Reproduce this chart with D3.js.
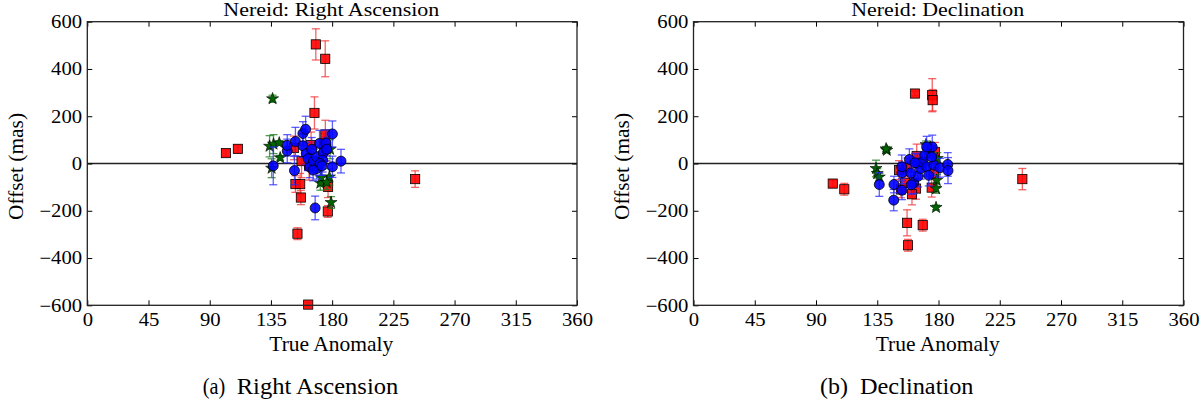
<!DOCTYPE html>
<html><head><meta charset="utf-8">
<script src="https://cdn.jsdelivr.net/npm/d3@7"></script>
<style>
html,body{margin:0;padding:0;background:#fff;}
svg text{font-family:"Liberation Serif","Times New Roman",serif;fill:#000;}
</style></head>
<body><svg id="chart" width="1200" height="400"></svg>
<script>
// ---------- data: [true anomaly (deg), offset (mas), error (mas)] ----------
const xTicks = [0,45,90,135,180,225,270,315,360];
const yTicks = [-600,-400,-200,0,200,400,600];

const raSquares = [
 [101.9,44,14],[110.7,62,16],[168,504,66],[174.9,443,76],[167,214,68],[175,123,60],
 [152,66,50],[164.5,78,55],[175.6,62,50],[174.4,82,45],[153,-87,35],[156.5,-87,45],
 [157,-144,30],[177,-99,45],[176.8,-203,25],[154.5,-297,25],[162.4,-597,10],[241,-66,35],
 [163,-10,60],[157.5,10,70]
];
const raCircles = [
 [136.7,-10,80],[147,53,50],[147,77,45],[152.3,-30,60],[153,93,60],[158.5,127,50],
 [160.5,145,55],[158.5,75,50],[161,42,45],[162.3,20,50],[163.5,-15,45],[166.3,10,50],
 [168.5,28,45],[170.7,85,55],[173.5,45,50],[173,14,50],[175.5,87,55],[180.2,125,55],
 [180.2,-14,45],[186.5,10,50],[167.5,-188,50],[168.7,-21,45],[171.2,0,50],[166,-28,45],
 [172.5,-10,40],[176,60,50],[165,60,50]
];
const raStars = [
 [136.2,274,15],[134,73,45],[136.9,82,40],[141.1,87,10],[141.8,24,10],[135.5,-20,40],
 [171.3,-83,30],[178,-57,35],[179.2,-165,25],[178.5,60,40],[172,-60,35],[176,-80,30]
];

const decSquares = [
 [102.3,-85,14],[110.8,-109,25],[162.7,296,10],[175.4,289,70],[175.7,268,45],
 [156.9,-251,55],[157.6,-346,25],[168.4,-261,25],[241.6,-66,45],[164,32,50],
 [157.1,-17,40],[152.4,-110,35],[155.4,-82,40],[163.5,-106,45],[175,-102,40],
 [177.4,49,40],[176.7,-42,45],[151,-28,40],[160.5,-130,45]
];
const decCircles = [
 [136.5,-89,50],[147.3,-89,35],[147.1,-155,45],[153.2,-113,40],[153.2,-40,45],
 [153,-14,50],[158.6,17,45],[161.8,-82,45],[165,-54,45],[164.7,0,40],[166.9,-21,45],
 [168.4,7,40],[169.9,35,45],[171.3,-14,40],[172.8,-50,45],[175.4,70,50],[176.7,-7,45],
 [181.1,-18,40],[186.8,-4,50],[187,-30,55],[162.7,3,40],[159.6,-40,45],[175,28,45],
 [171.3,70,45],[160,-90,40]
];
const decStars = [
 [142,56,10],[141.5,62,10],[134.1,-21,35],[135,-42,20],[136.5,-57,15],[178.2,-186,10],
 [170.8,80,15],[172.3,56,15],[178.7,-71,25],[178.2,-106,20],[179.1,21,25],[174,70,20]
];

const titles = ["Nereid: Right Ascension","Nereid: Declination"];
const captionTags = ["(a)","(b)"];
const captionTexts = ["Right Ascension","Declination"];
const xLabel = "True Anomaly";
const yLabel = "Offset (mas)";

// ---------- drawing ----------
const svg = d3.select("#chart");
const panels = [
  {x0:87.3, x1:577, capStart:202.7, titleW:216, capW:161.6, data:[raSquares,raStars,raCircles]},
  {x0:693.5, x1:1183.5, capStart:820, titleW:173, capW:113.5, data:[decSquares,decStars,decCircles]}
];
const yTop = 21.7, yBot = 305.3;
const styles = [
  {color:"#ff0000", bar:"#f03030", shape:"square"},
  {color:"#006400", bar:"#1a7a1a", shape:"star"},
  {color:"#0000ff", bar:"#2828ff", shape:"circle"}
];

function fitText(g, x, y, str, size, width, anchor){
  return g.append("text").attr("x",x).attr("y",y)
    .attr("font-family","Liberation Serif, Times New Roman, serif")
    .attr("text-anchor",anchor).attr("font-size",size)
    .attr("textLength",width).attr("lengthAdjust","spacingAndGlyphs").text(str);
}

panels.forEach((p,i)=>{
  const x = d3.scaleLinear().domain([0,360]).range([p.x0,p.x1]);
  const y = d3.scaleLinear().domain([-600,600]).range([yBot,yTop]);
  const g = svg.append("g");

  g.append("line").attr("x1",p.x0).attr("x2",p.x1)
    .attr("y1",y(0)).attr("y2",y(0)).attr("stroke","#222").attr("stroke-width",1.3);

  p.data.forEach((series,si)=>{
    const st = styles[si];
    const sg = g.append("g");
    series.forEach(d=>{
      const cx = x(d[0]), yt = y(d[1]+d[2]), yb = y(d[1]-d[2]);
      sg.append("line").attr("x1",cx).attr("x2",cx).attr("y1",yt).attr("y2",yb)
        .attr("stroke",st.bar).attr("stroke-width",1.3).attr("stroke-opacity",0.75);
      [yt,yb].forEach(yy=>sg.append("line").attr("x1",cx-4).attr("x2",cx+4)
        .attr("y1",yy).attr("y2",yy).attr("stroke",st.bar).attr("stroke-width",1.3).attr("stroke-opacity",0.75));
    });
    series.forEach(d=>{
      const cx = x(d[0]), cy = y(d[1]);
      if(st.shape==="square"){
        sg.append("rect").attr("x",cx-4.6).attr("y",cy-4.6).attr("width",9.2).attr("height",9.2)
          .attr("fill",st.color).attr("fill-opacity",0.9).attr("stroke","#000").attr("stroke-width",0.8);
      } else if(st.shape==="circle"){
        sg.append("circle").attr("cx",cx).attr("cy",cy).attr("r",5)
          .attr("fill",st.color).attr("fill-opacity",0.9).attr("stroke","#000").attr("stroke-width",0.8);
      } else {
        sg.append("path").attr("d",d3.symbol(d3.symbolStar,45)())
          .attr("transform",`translate(${cx},${cy})`)
          .attr("fill",st.color).attr("stroke","#000").attr("stroke-width",0.6);
      }
    });
  });

  const fmt = d3.format("d");
  const ax = [
    g.append("g").attr("transform",`translate(0,${yBot})`)
      .call(d3.axisBottom(x).tickValues(xTicks).tickFormat(fmt).tickSizeInner(-5).tickSizeOuter(0).tickPadding(8)),
    g.append("g").attr("transform",`translate(0,${yTop})`)
      .call(d3.axisTop(x).tickValues(xTicks).tickFormat("").tickSizeInner(-5).tickSizeOuter(0)),
    g.append("g").attr("transform",`translate(${p.x0},0)`)
      .call(d3.axisLeft(y).tickValues(yTicks).tickFormat(fmt).tickSizeInner(-5).tickSizeOuter(0).tickPadding(4.5)),
    g.append("g").attr("transform",`translate(${p.x1},0)`)
      .call(d3.axisRight(y).tickValues(yTicks).tickFormat("").tickSizeInner(-5).tickSizeOuter(0))
  ];
  ax.forEach(a=>{
    a.attr("font-family",null).attr("font-size",null);
    a.select(".domain").remove();
    a.selectAll(".tick line").attr("stroke","#000").attr("stroke-width",1);
    a.selectAll(".tick text").attr("font-size",18).attr("fill","#000")
      .attr("font-family","Liberation Serif, Times New Roman, serif")
      .attr("transform","scale(1.15,1)");
  });
  g.append("rect").attr("x",p.x0).attr("y",yTop).attr("width",p.x1-p.x0).attr("height",yBot-yTop)
    .attr("fill","none").attr("stroke","#222").attr("stroke-width",1.3);

  const cxm = (p.x0+p.x1)/2;
  fitText(g, cxm - 0.8, 15.7, titles[i], 19, p.titleW, "middle");
  fitText(g, cxm - 0.8, 350.5, xLabel, 21.5, 124, "middle");
  g.append("text").attr("transform",`translate(${p.x0-64.5},${(yTop+yBot)/2+3}) rotate(-90)`)
    .attr("font-family","Liberation Serif, Times New Roman, serif")
    .attr("text-anchor","middle").attr("font-size",22).attr("textLength",107)
    .attr("lengthAdjust","spacingAndGlyphs").text(yLabel);
  fitText(g, p.capStart, 393.5, captionTags[i], 22.5, i===0?22.5:28, "start");
  fitText(g, p.capStart + (i===0?34:40), 393.5, captionTexts[i], 22.5, p.capW, "start");
});
</script></body></html>
